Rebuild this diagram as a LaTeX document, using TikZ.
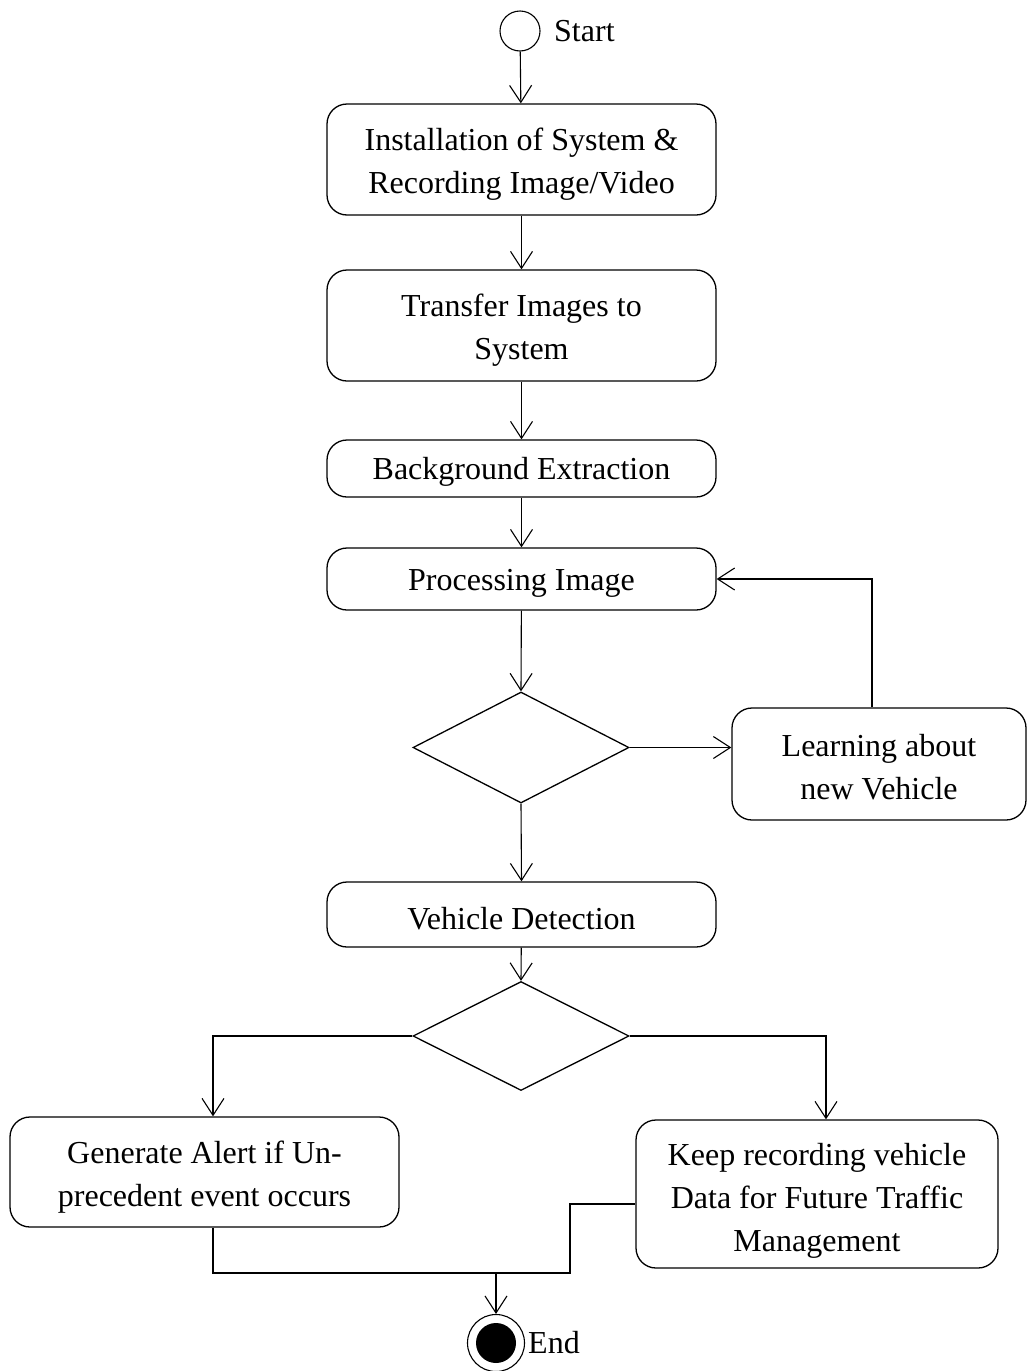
\documentclass[tikz,border=0pt]{standalone}
\usepackage{fontspec}
\setmainfont{Liberation Serif}
\usetikzlibrary{arrows.meta,shapes.geometric,calc}
\begin{document}
\begin{tikzpicture}[x=1pt,y=-1pt,
  every node/.style={font=\fontsize{32}{43}\selectfont},
  actbox/.style={draw,rounded corners=20pt,line width=1.3pt,inner sep=0pt,minimum width=389pt},
  boxtext/.style={align=center,inner sep=0pt},
  decision/.style={draw,diamond,line width=1.3pt,inner sep=0pt,minimum width=216pt},
  flow/.style={line width=1.1pt,-{Straight Barb[length=17pt,width=22pt,line width=1.1pt]}},
  plain/.style={line width=1.1pt}]
\useasboundingbox[fill=white] (0,0) rectangle (1027,1371);

% start marker
\node[draw,circle,line width=1.1pt,minimum size=40pt,inner sep=0pt] (start) at (520,31) {};
\node[anchor=west,inner sep=0pt] (startlbl) at (554,31) {Start};

% main column of activities (frames)
\node[actbox,minimum height=111pt] (inst) at (521.5,159.5) {};
\node[actbox,minimum height=111pt] (trans) at (521.5,325.5) {};
\node[actbox,minimum height=57pt] (bg) at (521.5,468.5) {};
\node[actbox,minimum height=62pt] (proc) at (521.5,579) {};
\node[decision,minimum height=111pt] (dec1) at (521,747.5) {};
\node[actbox,minimum width=294pt,minimum height=112pt] (learn) at (879,764) {};
\node[actbox,minimum height=65pt] (det) at (521.5,914.5) {};
\node[decision,minimum height=109pt] (dec2) at (521,1036) {};
\node[actbox,minimum height=110pt] (alert) at (204.5,1172) {};
\node[actbox,minimum width=362pt,minimum height=148pt] (keep) at (817,1194) {};

% activity texts, set a little below each frame's centre
\node[boxtext] (instT) at ([yshift=-5pt]inst.center) {Installation of System \&\\Recording Image/Video};
\node[boxtext] (transT) at ([yshift=-5pt]trans.center) {Transfer Images to\\System};
\node[boxtext] (bgT) at ([yshift=-3pt]bg.center) {Background Extraction};
\node[boxtext] (procT) at ([yshift=-4pt]proc.center) {Processing Image};
\node[boxtext] (learnT) at ([yshift=-3pt]learn.center) {Learning about\\new Vehicle};
\node[boxtext] (detT) at ([yshift=-4pt]det.center) {Vehicle Detection};
\node[boxtext] (alertT) at ([yshift=-5pt]alert.center) {Generate Alert if Un-\\precedent event occurs};
\node[boxtext] (keepT) at ([yshift=-7pt]keep.center) {Keep recording vehicle\\Data for Future Traffic\\Management};

% end marker
\node[draw,circle,line width=1.1pt,minimum size=57pt,inner sep=0pt] (fin) at (496,1343) {};
\fill (fin.center) circle (20);
\node[anchor=west,inner sep=0pt] (finlbl) at (528,1343) {End};

% routing helpers
\coordinate (fbx) at (872,0);
\coordinate (lx) at (213,0);
\coordinate (rx) at (826,0);
\coordinate (join) at (570,1273);

% connectors
\draw[flow] (start) -- (inst);
\draw[flow] (inst) -- (trans);
\draw[flow] (trans) -- (bg);
\draw[flow] (bg) -- (proc);
\draw[flow] (proc) -- (dec1.north);
\draw[flow] (dec1.east) -- (dec1.east -| learn.west);
\draw[flow] (fbx |- learn.north) |- (proc.east);
\draw[flow] (dec1.south) -- (det.north);
\draw[flow] (det) -- (dec2.north);
\draw[flow] (dec2.west) -| (lx |- alert.north);
\draw[flow] (dec2.east) -| (rx |- keep.north);
\draw[plain] (lx |- alert.south) |- (join) |- ($(keep.west)+(0,10)$);
\draw[flow] (fin.north |- join) -- (fin.north);
\end{tikzpicture}
\end{document}
